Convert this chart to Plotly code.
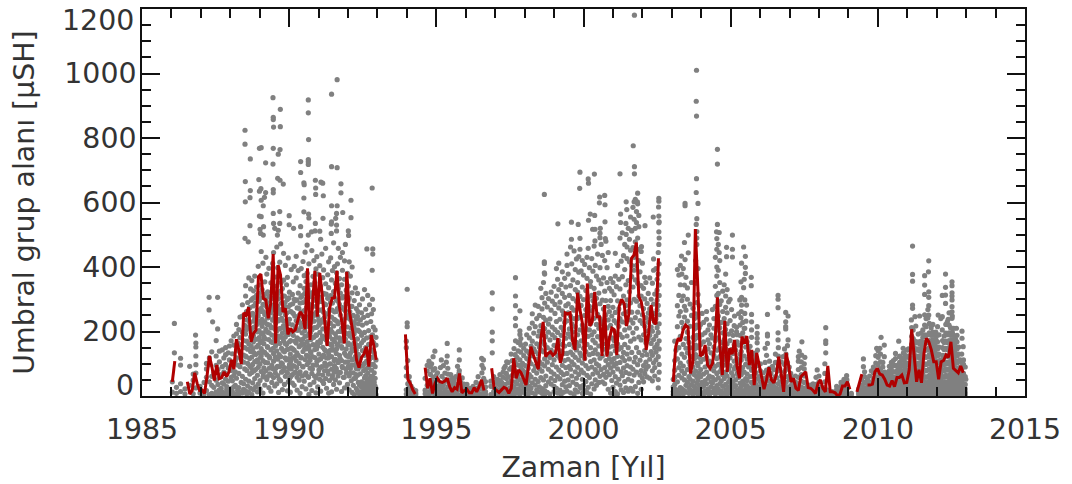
import plotly.graph_objects as go

# Outlying group areas read one by one (year, area)
peak_years_a = [1986.10,1986.10,1986.31,1986.82,1987.28,1987.57,1987.28,1987.40,1987.57,1988.50,1988.50,1989.45,1989.70,1989.46,1989.46,1989.47,1989.70,1990.65,1990.65,1991.44,1991.63,1990.66,1988.99,1989.05,1989.46,1989.69,1989.63,1988.68,1989.20,1989.45,1990.39,1990.65,1990.65,1990.65,1991.44,1991.63,1990.39,1988.51,1988.97,1989.61,1989.69,1989.80,1990.50,1990.51,1990.89,1991.08,1991.14,1990.90,1990.90,1991.16,1991.76,1991.76,1992.82,1988.68,1988.99,1989.04,1989.20,1989.46,1989.46,1988.67,1988.51,1989.05,1989.16,1989.12,1990.50,1991.44,1991.63,1992.10,1988.99,1989.05,1989.46,1989.68,1990.00,1990.50,1990.66,1990.67,1991.15,1991.44,1991.43,1991.61,1991.58,1991.82,1992.10,1988.67,1990.00,1990.15,1990.39,1989.47,1989.68,1989.01,1989.13,1989.51,1989.03,1990.89,1990.65,1990.76,1990.88,1991.04,1991.43,1991.61,1992.01,1992.02,1990.39,1989.63,1989.60,1989.12,1991.07,1988.50,1988.61,1992.64,1992.84,1992.84,1992.82,1994.01,1994.01,1994.01]
peak_areas_a = [225,134,117,189,306,306,267,230,208,824,781,925,889,864,857,834,835,918,878,936,981,795,768,770,768,764,750,735,723,719,727,733,726,718,711,708,693,665,671,675,669,657,661,655,669,663,660,645,625,621,658,630,645,637,635,643,631,640,630,615,602,607,616,590,614,590,590,607,558,556,566,572,559,571,564,552,551,540,533,566,551,569,553,528,531,520,525,535,535,517,525,520,504,535,499,509,512,511,504,530,512,498,497,514,499,499,486,489,478,456,456,440,390,331,227,215]
peak_years_b = [2001.73,2003.84,2003.83,2003.84,2001.69,2004.55,2004.55,2001.73,2001.73,2003.84,1999.88,2000.37,2001.24,2000.16,2000.17,1999.87,1998.67,2003.83,2003.89,2000.55,2000.72,2000.54,2000.73,2001.84,2001.45,2001.72,2001.83,2002.56,2002.56,2002.55,2003.45,2003.45,2001.47,2002.56,2002.56,2002.37,2000.23,2000.38,2000.17,2000.73,1999.13,1999.59,1999.82,2001.26,2001.26,2002.09,2004.55,2003.83,2003.56,2003.43,2004.52,2004.61,2002.56,2002.56,1999.59,1999.88,2000.31,2000.39,2000.57,2000.74,2000.56,2000.39,2001.97,2001.45,2001.63,2003.56,2003.33,2003.45,2004.86,2004.61,2004.86,1998.67,1998.67,1998.67,1997.69,1996.90,1996.90,1997.69,1997.69,1997.84,1997.69,1997.69,1997.84,1996.90,1996.90,1996.90,1997.84,1997.69,1997.84,1994.95,1995.37,1995.78,1995.37,1995.78,1995.17,1996.54,1996.60,1997.39,1996.60,1997.30,1995.78]
peak_areas_b = [1181,1010,914,868,776,765,719,711,689,674,694,688,689,673,660,644,625,631,597,617,622,599,593,629,602,602,602,613,604,586,597,590,578,558,537,555,564,560,545,540,534,539,532,564,538,528,532,532,499,476,509,507,509,470,486,489,517,517,520,488,491,481,463,501,514,444,434,423,461,445,432,416,411,382,367,320,270,310,280,264,241,218,202,198,171,134,191,171,165,139,163,143,124,112,112,117,112,106,86,86,79]
peak_years_c = [2005.06,2005.06,2005.06,2005.44,2005.50,2005.37,2005.50,2005.50,2005.70,2005.46,2005.35,2005.70,2005.44,2005.37,2005.31,2005.48,2005.54,2005.37,2005.48,2005.71,2005.13,2005.35,2005.52,2005.71,2005.20,2005.48,2005.90,2005.71,2005.20,2005.90,2005.90,2005.90,2006.25,2006.25,2006.25,2006.25,2006.61,2006.61,2006.61,2006.87,2006.95,2006.87,2006.87,2006.87,2006.61,2006.61,2006.95,2007.42,2008.23,2008.23,2008.23,2008.23,2007.33,2007.41,2007.52,2007.94,2008.94,2009.51,2009.51,2010.11,2009.96,2010.07,2010.22,2010.22,2010.71,2010.86,2010.75,2011.18,2011.18,2011.18,2011.73,2011.72,2011.59,2011.59,2011.59,2011.73,2011.73,2011.73,2011.18,2011.18,2012.30,2012.30,2012.30,2012.19,2012.30,2012.52,2012.52,2012.52,2012.52,2012.52,2012.52,2012.52,2012.05,2012.19,2012.52,2012.39,2011.42,2011.26,2011.14,2011.73,2011.29,2012.67,2012.86,2012.19,2012.86,2012.90,2012.99]
peak_areas_c = [499,455,431,462,433,412,399,380,368,362,354,342,336,306,298,298,282,282,256,253,248,243,232,230,213,210,215,205,199,194,179,165,253,192,186,163,312,300,274,259,248,230,215,208,196,174,174,168,212,171,163,134,139,127,120,81,63,115,91,182,148,148,158,122,170,148,124,465,377,356,419,385,373,344,315,323,306,280,282,272,378,337,313,312,287,354,342,320,310,298,277,261,251,246,241,238,248,246,236,251,217,210,201,205,179,153,52]

# Dense body of the cloud, read as same-day stacks (year, areas)
stacks_1986 = [(1986.03,[12,44]),(1986.17,[27,8]),(1986.31,[96,38,14]),(1986.46,[22,6]),(1986.62,[33,92]),(1986.74,[7,49,68]),(1986.83,[124,25,152,71,97,164]),(1986.97,[9,30]),(1987.11,[42,6]),(1987.19,[84,17,101,58]),(1987.29,[118,4,44,97]),(1987.37,[8,61,137,33]),(1987.44,[27,72,3]),(1987.52,[124,49,13,95,172]),(1987.58,[36,7,83]),(1987.63,[139,19,106,57]),(1987.69,[5,66,24]),(1987.73,[91,41,12,143]),(1987.78,[2,118,37,74]),(1987.84,[10,52,150,98,128]),(1987.88,[29,6,69,21]),(1987.93,[87,134,15,46]),(1987.97,[112,155,4]),(1988.03,[58,23,79,171,11])]
stacks_1988 = [(1988.07,[14,131,47,86]),(1988.12,[3,158,64,186,28]),(1988.17,[109,33,75]),(1988.21,[7,222,118,55,193]),(1988.25,[142,18,96,165]),(1988.29,[70,26,206,5]),(1988.33,[136,245,91,12,181]),(1988.37,[42,159,113]),(1988.41,[283,61,9,197,248]),(1988.45,[105,21,172,127,38]),(1988.49,[84,219,150]),(1988.52,[310,16,124,52,342,192]),(1988.56,[79,236,170,6]),(1988.59,[145,290,101,31,262,214]),(1988.63,[46,366,161,11]),(1988.66,[228,93,274,116,68]),(1988.69,[24,332,183,138,251]),(1988.73,[73,358,209,4,121]),(1988.76,[146,302,41,256,98]),(1988.79,[187,279,19,232,168,326]),(1988.83,[107,54,372,243]),(1988.86,[176,28,288,82,129]),(1988.89,[221,338,152,312]),(1988.92,[64,266,13,199,112]),(1988.95,[402,89,158,249,37]),(1988.98,[134,318,203,295,181]),(1989.01,[48,226,344,22,99]),(1989.05,[448,147,272,76,194,125]),(1989.08,[330,238,216,171]),(1989.11,[9,284,110,412,59]),(1989.14,[184,306,87,162]),(1989.17,[354,253,34,135,230]),(1989.21,[430,78,207,299]),(1989.24,[51,277,128,378]),(1989.27,[198,103,323,151]),(1989.31,[244,396,26,175]),(1989.34,[69,290,118,220]),(1989.38,[143,304,15,351,258]),(1989.41,[95,189,42,281]),(1989.44,[411,212,166,327,235]),(1989.47,[57,108,445,271,132]),(1989.51,[369,179,31,317,248]),(1989.54,[85,226,156,294]),(1989.58,[462,202,38,341,140]),(1989.61,[114,279,63,398]),(1989.64,[186,372,233,11,302]),(1989.68,[91,415,163,256]),(1989.71,[472,210,47,325,122]),(1989.74,[148,288,74,241]),(1989.77,[333,195,20,264,100]),(1989.81,[218,359,171,442]),(1989.84,[88,310,137,36]),(1989.87,[252,405,183,61,276]),(1989.91,[112,345,160,230]),(1989.94,[299,16,207,71,368]),(1989.97,[145,276,44,428,191])]
stacks_1990 = [(1990.01,[97,238,322,168,53]),(1990.04,[283,12,130,200]),(1990.07,[392,261,84,149]),(1990.11,[40,315,221,117,66]),(1990.14,[188,354,256]),(1990.17,[93,33,142,300,402]),(1990.21,[211,74,296]),(1990.24,[164,433,109,366,234]),(1990.27,[58,273,180,18]),(1990.31,[319,126,389,204]),(1990.34,[49,250,153,101]),(1990.37,[342,227,75,8,288]),(1990.41,[395,172,119,260]),(1990.44,[29,311,196,62]),(1990.47,[219,138,417,90]),(1990.51,[265,46,334,161,373]),(1990.54,[113,242,446,185]),(1990.57,[300,22,146,72,355]),(1990.61,[216,98,381,169,468]),(1990.64,[239,60,123,331]),(1990.67,[285,5,193,410,149]),(1990.71,[35,308,111,252,86]),(1990.74,[345,175,229,135]),(1990.77,[451,205,17,275,70]),(1990.81,[159,371,96,321]),(1990.84,[43,232,182,298,420]),(1990.87,[119,352,255,144]),(1990.91,[10,278,190,56,394]),(1990.94,[324,213,107,432]),(1990.97,[167,378,28,154,247]),(1991.01,[81,306,220,130]),(1991.04,[404,197,266,52]),(1991.07,[340,115,174,15]),(1991.11,[293,236,91,440]),(1991.14,[65,367,151,208]),(1991.17,[127,391,39,260,318]),(1991.21,[178,102,316,229]),(1991.24,[458,54,283,140,348]),(1991.27,[200,24,118,254]),(1991.31,[376,163,77,303]),(1991.34,[223,9,336,131,416]),(1991.37,[268,99,185,48]),(1991.41,[428,160,311,206]),(1991.44,[83,245,360,13,122]),(1991.47,[389,176,288,63]),(1991.51,[142,324,217,475,36]),(1991.54,[94,261,401,169]),(1991.57,[50,349,235,114,193]),(1991.61,[512,298,146,21,382]),(1991.64,[76,231,410,159,271]),(1991.67,[333,104,200,458]),(1991.71,[41,284,180,364,126]),(1991.74,[251,73,430,319]),(1991.78,[153,345,210,14,110]),(1991.81,[390,274,88,445]),(1991.84,[170,58,308,235]),(1991.88,[133,362,25,198,419]),(1991.91,[264,105,470,176]),(1991.94,[328,71,244,146]),(1991.98,[36,214,380,123,287]),(1992.01,[164,92,341,250]),(1992.04,[416,19,195,62,304]),(1992.08,[237,133,372,85]),(1992.11,[47,278,158,210]),(1992.14,[400,112,320,11,181]),(1992.18,[250,72,141,33]),(1992.21,[193,296,96,4,227]),(1992.25,[335,162,55,122]),(1992.28,[271,23,204,85,143]),(1992.32,[318,16,177,64,247,109]),(1992.35,[8,129,224,42]),(1992.39,[283,91,154,34,200]),(1992.42,[12,236,117,69,3]),(1992.46,[165,258,44,188,27]),(1992.49,[93,5,301,141,220]),(1992.53,[14,244,79,38,173]),(1992.56,[330,22,126,56,197,101]),(1992.6,[9,269,150,2,63,30]),(1992.63,[180,43,108,18,226,85]),(1992.67,[312,4,132,250,29,71]),(1992.7,[52,11,203,90,160,20]),(1992.73,[137,40,283,2,113,7]),(1992.77,[231,61,15,184,34,98]),(1992.8,[3,47,255,80,24,143]),(1992.83,[120,8,190,34,61,300]),(1992.86,[15,214,98,3,268,47,166]),(1992.89,[72,21,134,42,7]),(1992.92,[205,13,55,2,91,31]),(1992.95,[158,112,4,182,24])]
stacks_core = [(1988.55,[206,121,262]),(1988.71,[155,297,88,198]),(1988.81,[214,134,305,78]),(1988.94,[293,176,105,234]),(1989.03,[166,262,120,304]),(1989.12,[138,228,70,262,196]),(1989.19,[177,104,316,282]),(1989.26,[242,60,153,222]),(1989.32,[122,309,86,196]),(1989.39,[212,64,272,168]),(1989.46,[148,84,302,238]),(1989.53,[121,266,206,72]),(1989.6,[174,92,238,315]),(1989.66,[128,266,52,208]),(1989.73,[182,103,352,268]),(1989.79,[141,234,78,310]),(1989.86,[206,118,290,163]),(1989.92,[75,258,144,192]),(1989.99,[116,224,304,88]),(1990.05,[172,262,108,60]),(1990.12,[146,286,202,94]),(1990.19,[248,72,170,122]),(1990.26,[204,298,134,88]),(1990.33,[176,232,70,272]),(1990.4,[118,214,306,158]),(1990.46,[92,246,176,290]),(1990.53,[148,202,66,318]),(1990.59,[274,126,186,244]),(1990.66,[104,156,226,58]),(1990.72,[196,278,138,320]),(1990.79,[122,246,84,182]),(1990.86,[212,62,158,298]),(1990.93,[146,260,96,188]),(1991.0,[234,112,292,68]),(1991.06,[166,226,88,306]),(1991.13,[122,268,186,46]),(1991.2,[244,144,78,286]),(1991.26,[174,92,316,210]),(1991.33,[118,256,68,192]),(1991.4,[226,142,290,100]),(1991.46,[198,56,266,156]),(1991.53,[110,238,306,74]),(1991.6,[182,262,132,86]),(1991.66,[224,158,62,294]),(1991.73,[116,200,276,170]),(1991.8,[236,92,148,304]),(1991.87,[176,268,58,214]),(1991.93,[126,286,84,192]),(1992.0,[242,160,106,296]),(1992.06,[186,70,262,122]),(1992.13,[228,96,146,278]),(1992.2,[164,54,214,114]),(1992.27,[238,98,176,66]),(1992.34,[156,204,84,262])]
stacks_1994 = [(1993.98,[170,19,88,6,62,150]),(1994.03,[38,110,12]),(1994.08,[60,4,27,44]),(1994.14,[14,31,7]),(1994.2,[22,5]),(1994.3,[9,17,4]),(1994.62,[55,18,7]),(1994.69,[95,33,78,12]),(1994.75,[28,108,5]),(1994.8,[47,15,67,90]),(1994.84,[100,9,39]),(1994.89,[21,58,122,80]),(1994.95,[44,4,85]),(1994.99,[26,63,13]),(1995.04,[50,7,72]),(1995.09,[18,32,5]),(1995.14,[88,41,12]),(1995.19,[24,61,3]),(1995.24,[94,35,8]),(1995.29,[71,20,52]),(1995.34,[105,14,46,3]),(1995.39,[68,86,28]),(1995.44,[33,6,50]),(1995.49,[66,17]),(1995.55,[23,4,39,55]),(1995.6,[11,47]),(1995.66,[60,30,7,15]),(1995.72,[92,36,5]),(1995.77,[52,20,70]),(1995.83,[25,3,42]),(1995.88,[56,12]),(1995.94,[6,28,37,16]),(1996.04,[10,36,21,4]),(1996.14,[24,5,13]),(1996.25,[30,9,3,17]),(1996.35,[42,15,6]),(1996.42,[26,60,12]),(1996.48,[22,4,38]),(1996.55,[95,34,7,72]),(1996.61,[18,55]),(1996.67,[45,14,5,28])]
stacks_1997 = [(1996.85,[46,4,30]),(1996.95,[60,14,6,27,44]),(1997.03,[24,3]),(1997.08,[11,52,39]),(1997.16,[33,7,66,19,48]),(1997.22,[5,42]),(1997.27,[74,13,27,58]),(1997.34,[92,36,8]),(1997.38,[20,54,70]),(1997.44,[104,12,41,4,60]),(1997.49,[25,83]),(1997.54,[130,47,6,88]),(1997.58,[18,64,110,31]),(1997.64,[147,28,3,81]),(1997.68,[105,44,62,14,128]),(1997.74,[75,9,120,38]),(1997.78,[166,22,55,96,140]),(1997.84,[50,5,112,68]),(1997.87,[178,17,33,136,90,158]),(1997.93,[43,101,12,80]),(1997.97,[148,26,60,125]),(1998.03,[73,7,161,94]),(1998.07,[36,139,21,190,54,116]),(1998.12,[48,4,86]),(1998.16,[180,30,66,210,132,16,108]),(1998.22,[59,155,25,100]),(1998.26,[255,41,170,10,124,226]),(1998.31,[79,146,195]),(1998.36,[282,6,92,215,34,138,52]),(1998.41,[19,240,71,162,114]),(1998.46,[278,45,130,186]),(1998.5,[13,201,85,250,28,152,106]),(1998.55,[334,57,144,218]),(1998.59,[23,305,99,192,77,8,270,168]),(1998.64,[352,50,137,244]),(1998.68,[378,4,115,209,93,288,17,160]),(1998.72,[62,235,184,318,32]),(1998.77,[150,11,276,105]),(1998.81,[44,223,83,302,198,127]),(1998.86,[239,6,119,174]),(1998.9,[266,75,37,322,142,55]),(1998.94,[190,294,97,214]),(1999.0,[30,157,340,14,112,68]),(1999.03,[256,48,181,284,134,206]),(1999.08,[395,90,24,310,231]),(1999.12,[148,60,362,125,9,197]),(1999.16,[273,81,172,412,330]),(1999.2,[18,238,53,117,291,140]),(1999.24,[188,346,5,213,73]),(1999.28,[385,95,264,35,160,318]),(1999.32,[132,12,203,66,252]),(1999.36,[306,110,228,46,365,155]),(1999.4,[280,88,179,28,338]),(1999.44,[70,440,132,233,15,405]),(1999.48,[193,286,50,378,114,258]),(1999.52,[160,92,312,32,208]),(1999.56,[342,10,136,248,462,183,83]),(1999.6,[62,274,224,410,106]),(1999.64,[43,175,360,128,302,199]),(1999.68,[5,97,450,266,151,240]),(1999.72,[392,75,330,19,215,120]),(1999.76,[36,294,166,425,55,143]),(1999.8,[190,89,352,240,13,322]),(1999.84,[384,111,271,67,432,156]),(1999.88,[29,205,309,133,455,245])]
stacks_2000 = [(1999.92,[80,388,171,24,281,125]),(1999.96,[420,52,220,102,338,8]),(2000.0,[196,375,148,72,299,34]),(2000.04,[250,17,116,408,178]),(2000.08,[45,327,94,210,268,138]),(2000.12,[365,11,160,430,64]),(2000.16,[235,85,306,185,27,458]),(2000.2,[128,398,57,278,205]),(2000.24,[6,340,107,224,150,355]),(2000.28,[426,38,265,90,190,312]),(2000.32,[173,68,387,132,296]),(2000.36,[465,22,241,112,334,199]),(2000.4,[82,405,165,280,143,50]),(2000.44,[222,372,100,303,33]),(2000.48,[440,130,253,72,184]),(2000.52,[319,94,42,210,360,155]),(2000.56,[505,117,240,61,398,286]),(2000.6,[175,348,82,225,470]),(2000.64,[124,297,44,436,203,162]),(2000.68,[270,67,366,145,231]),(2000.72,[88,420,186,325,38]),(2000.76,[252,110,480,58,296,161]),(2000.8,[398,133,211,75,352]),(2000.84,[21,278,97,178,445,236]),(2000.88,[334,66,152,262,116]),(2000.92,[9,219,364,87,296,131]),(2000.96,[48,180,325,105,248]),(2001.0,[352,74,155,27,275,205]),(2001.04,[116,5,234,93,314,172]),(2001.08,[442,60,259,140,372,14]),(2001.12,[196,101,339,40,226]),(2001.16,[295,84,161,405,7,123]),(2001.2,[216,52,362,145,270]),(2001.24,[490,34,191,104,332,240]),(2001.28,[75,418,150,289,19]),(2001.32,[230,120,506,63,370,182]),(2001.36,[310,11,255,87,435,135]),(2001.4,[45,205,392,160,470,110]),(2001.44,[281,73,345,25,535,226]),(2001.48,[130,462,186,94,426,298]),(2001.52,[52,262,358,150,520,15]),(2001.56,[211,115,416,69,323,486]),(2001.6,[24,289,170,555,90,452,236]),(2001.64,[370,135,512,47,405,260]),(2001.68,[196,585,83,338,460,15,226]),(2001.72,[548,106,300,430,65,177,390]),(2001.76,[478,29,243,610,120,360,520]),(2001.8,[150,572,294,74,405,538,210]),(2001.84,[350,8,455,596,97,260,490]),(2001.88,[183,525,42,310,420,135,560]),(2001.92,[65,234,385,111,280]),(2001.96,[448,21,174,310,79,342]),(2002.0,[225,126,412,56,252]),(2002.04,[94,334,190,44,271]),(2002.08,[141,368,70,216,301]),(2002.12,[243,105,165,352,83]),(2002.16,[287,128,202,59]),(2002.2,[177,318,92,229,257]),(2002.25,[114,366,55,188,270]),(2002.3,[214,138,300,163,241]),(2002.34,[78,350,126,201,47]),(2002.38,[425,175,285,103,256,390]),(2002.42,[62,228,150,316,88]),(2002.46,[395,136,239,186,112]),(2002.5,[297,160,362,212,328,267]),(2002.54,[25,445,122,378,197,51,281]),(2002.57,[540,98,312,171,410,146,252,74,490,224,344])]
stacks_2003 = [(2003.05,[28,5,52,14]),(2003.1,[110,8,170,36,80,58]),(2003.14,[20,142,3]),(2003.19,[280,44,392,115,15,215]),(2003.24,[88,312,4,150,248,375,64]),(2003.29,[345,26,185,405,10,102,262]),(2003.34,[56,228,130,22,378,296,78]),(2003.39,[160,6,310,93,395,212]),(2003.43,[50,344,17,245,120,70,278]),(2003.48,[178,33,148,368,12,266]),(2003.53,[300,82,198,42,134,335,232]),(2003.58,[26,106,60,166,8]),(2003.62,[285,96,20,216,150,52]),(2003.67,[352,35,122,72,250]),(2003.72,[4,182,90,46,272,15]),(2003.77,[145,29,208,66,116,240,175]),(2003.81,[350,24,128,78,420,10,255,158]),(2003.85,[490,58,220,40,102,290,188,550,470,510]),(2003.89,[18,395,94,245,150,6,50,315]),(2003.93,[212,70,120,34,180,280]),(2003.98,[12,160,60,222,106,26,82]),(2004.03,[256,42,132,190]),(2004.08,[5,114,68,228,30,168]),(2004.13,[90,16,48,196,140]),(2004.18,[9,238,74,120,38,262]),(2004.23,[174,22,55,146,96,205]),(2004.28,[4,108,162,62,220,14]),(2004.33,[84,28,134,44,190]),(2004.38,[268,11,100,58,180,40]),(2004.43,[24,210,126,78,152,240]),(2004.48,[430,6,92,278,50,18,172,340]),(2004.53,[116,455,32,372,205,70,488,240,142,312,400]),(2004.58,[22,248,98,470,56,180,318,10,390]),(2004.63,[122,352,38,212,76,150,284,420]),(2004.68,[4,166,295,88,15,228,46]),(2004.73,[138,30,262,66,196,325,112]),(2004.78,[8,345,96,240,54,175,120]),(2004.83,[20,378,146,74,310,206,36,275]),(2004.88,[108,5,258,162,62,330,224]),(2004.93,[14,192,84,28,134,292,44]),(2004.98,[234,52,118,9,300,172,94]),(2005.03,[20,144,72,268,34,202])]
stacks_2005 = [(2005.08,[62,14,132,44,188,4]),(2005.12,[108,218,28,84,160]),(2005.17,[7,92,32,142,50]),(2005.22,[18,190,70,116,168]),(2005.27,[3,104,58,12,158,255]),(2005.32,[40,188,24,80,130,220]),(2005.36,[66,6,138,30,262,112]),(2005.41,[228,16,88,46,196,166]),(2005.46,[4,74,124,36,180,210]),(2005.51,[22,98,54,152,11]),(2005.56,[8,114,48,168,68,32]),(2005.61,[18,90,140]),(2005.66,[3,60,25,154,13,102]),(2005.71,[42,128,80,182]),(2005.76,[6,28,84,15,62]),(2005.81,[44,132,106]),(2005.86,[4,72,22,118,36]),(2005.91,[52,10,94,142]),(2005.96,[7,28,60,16]),(2006.01,[44,100,78]),(2006.06,[3,22,36,11]),(2006.11,[54,72]),(2006.17,[5,40,14,104,26,148]),(2006.22,[80,58,126]),(2006.27,[8,64,30,18]),(2006.32,[46,86,108]),(2006.37,[3,22,11,70,36]),(2006.42,[52,92]),(2006.47,[6,42,15,82,28]),(2006.52,[130,60,104]),(2006.57,[4,24,56,12,102]),(2006.62,[78,38,150,124]),(2006.67,[7,44,16,84]),(2006.72,[28,62,106]),(2006.78,[3,54,22,122,10]),(2006.83,[76,36,146,98]),(2006.88,[5,42,14,130,82]),(2006.93,[26,104,60,156]),(2006.99,[8,50,18,90]),(2007.04,[32,70]),(2007.1,[4,40,12,56,24]),(2007.2,[28,6,62,44,15]),(2007.3,[3,58,22,108,11,122,38,82]),(2007.4,[14,66,5,106,46,88,28]),(2007.5,[4,62,24,84,12,42,100]),(2007.6,[7,30,16]),(2007.7,[20,3,34,10]),(2007.8,[14,5,38,26]),(2007.9,[22,4,58,11,36]),(2008.0,[44,6,28,62,15]),(2008.1,[10,3,20]),(2008.2,[26,5,100,13,70,44]),(2008.3,[10,4,18]),(2008.45,[8,3,14]),(2008.6,[20,5,30,11]),(2008.75,[30,4,42,18,9]),(2008.85,[14,52,26,6,40]),(2008.95,[36,3,50,22,10]),(2009.1,[4,8]),(2009.35,[12,5,22]),(2009.45,[34,4,50,20,10]),(2009.55,[14,75,26,6,60,42])]
stacks_2009 = [(2009.65,[24,4,52,12,38]),(2009.72,[16,62,7,44]),(2009.78,[78,28]),(2009.85,[3,36,22,90,11,54,72]),(2009.93,[80,6,42,15,125,60,28,102]),(2010.01,[24,96,4,56,40,140,74,12,120]),(2010.09,[46,8,106,18,64,30,84,130]),(2010.17,[25,104,3,54,13,90,38,72]),(2010.24,[16,6,58,28,42,74]),(2010.32,[24,54,4,38,12,70]),(2010.39,[7,46,16,92,30,62,78]),(2010.46,[36,3,88,52,11,70,22,104]),(2010.53,[15,58,6,76,28,42,96,110]),(2010.6,[12,94,40,4,74,24,56,116,132]),(2010.67,[18,62,8,46,30,96,80]),(2010.74,[22,86,3,52,36,122,68,104,11]),(2010.8,[28,6,78,42,15,60,98,118]),(2010.87,[54,4,92,24,134,38,12,72,112]),(2010.93,[84,8,46,18,126,30,64,104]),(2010.98,[25,98,3,58,13,142,78,120,40]),(2011.04,[102,16,62,6,44,124,28,82,146]),(2011.1,[24,12,56,4,96,76,38,118]),(2011.15,[46,8,140,18,84,160,30,64,104,118,185,212]),(2011.2,[22,72,3,54,134,11,92,156,36,112,178,205]),(2011.26,[30,6,84,15,126,46,104,64,148,170]),(2011.31,[13,78,3,40,120,25,58,98,142,165]),(2011.37,[124,16,62,6,44,102,28,82,146,168,192]),(2011.42,[38,12,96,4,140,24,56,76,118,162]),(2011.47,[8,84,18,64,126,30,46,104,148,170,195]),(2011.53,[36,3,94,11,54,74,116,22,138,160,182,205]),(2011.59,[15,80,6,42,122,28,60,100,144,166,190,220,252]),(2011.64,[24,98,4,58,12,142,40,78,120,165,188,215,240]),(2011.7,[14,80,3,60,122,26,42,100,144,166,190,242,268]),(2011.75,[46,6,106,16,84,30,64,128,150,172,196,225]),(2011.81,[12,78,3,58,120,24,40,98,142,164,188,212]),(2011.87,[48,7,108,18,86,32,66,130,152,175,198,222]),(2011.92,[26,100,4,60,13,42,80,122,144,166,188]),(2011.97,[34,8,88,20,68,50,110,132,154,176,198]),(2012.03,[26,102,3,60,12,42,80,124,146,168,188,215]),(2012.08,[30,6,108,16,66,48,86,130,152,190]),(2012.14,[22,90,3,52,10,36,70,112,240]),(2012.2,[28,82,6,60,14,42,104,126,150,172]),(2012.25,[16,98,4,58,40,12,78,120,144,166,186]),(2012.31,[44,7,104,20,84,30,64,126,148,170,195,222]),(2012.36,[18,80,3,60,26,42,100,122,144,166,190,230]),(2012.42,[46,6,106,16,84,30,64,128,150,172,196,220,258]),(2012.47,[24,98,3,58,12,40,78,120,142,164,188,212]),(2012.53,[48,7,108,18,86,32,66,130,152,175,198,248]),(2012.58,[26,100,4,60,13,42,80,122,144,166,188,210]),(2012.64,[34,8,88,20,68,50,110,132,154,176]),(2012.69,[26,102,3,60,12,42,80,124,146,168,188]),(2012.75,[30,6,108,16,66,48,86,130,152]),(2012.8,[22,90,3,52,10,36,70,112]),(2012.85,[28,82,6,60,14,42,104,130]),(2012.91,[16,98,3,52,36,10,70,112,22]),(2012.97,[4,22,60,36,90,12])]

# Red monthly mean segments: first month (decimal year) and monthly values
mean_start_1 = 1986.03
mean_values_1 = [44,108]
mean_start_2 = 1986.54
mean_values_2 = [44,6,17,72,39,17,19,8,60,124,91,48,96,54,57,75,60,75,112,83,176,143,99,258,251,275,168,194,205,370,378,303,298,241,287,440,163,406,375,261,272,191,210,199,205,230,261,251,207,396,174,282,388,246,382,313,236,155,272,303,305,388,277,230,163,385,267,225,174,112,88,120,130,153,91,189,158,112]
mean_start_3 = 1993.95
mean_values_3 = [191,52,39,19,6]
mean_start_4 = 1994.62
mean_values_4 = [88,24,55,8,39,55,44,42,46,55,29,13,26,21,70,10,17,21,10,10,26,13,29,50,17]
mean_start_5 = 1996.88
mean_values_5 = [86,24,17,11,19,27,23,8,24,117,55,81,72,50,34,91,153,127,101,83,174,230,122,132,137,126,134,179,103,132,258,254,258,171,143,320,267,225,110,349,217,230,323,246,246,124,282,122,179,210,205,127,279,300,287,217,256,427,437,476,308,292,246,143,194,282,230,223,427]
mean_start_6 = 2003.05
mean_values_6 = [44,153,179,171,205,220,213,70,106,518,339,124,130,158,96,86,101,163,306,153,65,233,75,148,130,174,91,55,184,163,186,96,143,34,134,101,60,21,50,89,50,41,65,122,60,13,134,96,44,55,24,17,60,68,75,26,24,17,8,39,50,24,13,93,13,13,10,0,6,31,31,44,21]
mean_start_7 = 2009.29
mean_values_7 = [13,39,68]
mean_start_8 = 2009.65
mean_values_8 = [34,34,37,75,86,68,65,52,34,31,48,29,57,57,65,41,42,81,207,112,44,81,41,132,179,168,143,106,106,52,106,110,127,120,168,86,79,72,93,72]

x_tick_labels = ["1985","1990","1995","2000","2005","2010","2015"]
x_tick_values = [1985,1990,1995,2000,2005,2010,2015]
y_tick_values = [0,200,400,600,800,1000,1200]
y_tick_labels = ["","200","400","600","800","1000",""]

dot_x = peak_years_a + peak_years_b + peak_years_c
dot_y = peak_areas_a + peak_areas_b + peak_areas_c
for group in (stacks_1986, stacks_1988, stacks_1990, stacks_core, stacks_1994, stacks_1997, stacks_2000, stacks_2003, stacks_2005, stacks_2009):
    for year, vals in group:
        dot_x += [year] * len(vals)
        dot_y += vals

line_x, line_y = [], []
for s, vals in ((mean_start_1, mean_values_1), (mean_start_2, mean_values_2), (mean_start_3, mean_values_3),
                (mean_start_4, mean_values_4), (mean_start_5, mean_values_5), (mean_start_6, mean_values_6),
                (mean_start_7, mean_values_7), (mean_start_8, mean_values_8)):
    line_x += [s + i / 12 for i in range(len(vals))] + [None]
    line_y += vals + [None]

TXT = "#333333"
FONT = "DejaVu Sans"
FS = 28.4
fig = go.Figure()
fig.add_trace(go.Scatter(x=dot_x, y=dot_y, mode="markers", marker=dict(size=5.2, color="#808080", line=dict(width=0)), showlegend=False))
fig.add_trace(go.Scatter(x=line_x, y=line_y, mode="lines", line=dict(color="#b00000", width=3), connectgaps=False, showlegend=False))

common = dict(showline=True, linecolor="#111111", linewidth=1.5, mirror="allticks", ticks="inside",
              ticklen=18, tickwidth=1.5, tickcolor="#111111", showgrid=False, zeroline=False,
              tickfont=dict(family=FONT, size=FS, color=TXT))
fig.update_xaxes(range=[1985, 2015], tickmode="array", tickvals=x_tick_values, ticktext=x_tick_labels,
                 ticklabelstandoff=7,
                 minor=dict(dtick=1, ticks="inside", ticklen=9, tickwidth=1.5, tickcolor="#111111", showgrid=False),
                 title=dict(text="Zaman [Yıl]", font=dict(family=FONT, size=FS, color=TXT), standoff=13), **common)
fig.update_yaxes(range=[0, 1200], tickmode="array", tickvals=y_tick_values, ticktext=y_tick_labels,
                 ticklabelstandoff=-2,
                 minor=dict(dtick=50, ticks="inside", ticklen=9, tickwidth=1.5, tickcolor="#111111", showgrid=False),
                 title=dict(text="Umbral grup alanı [μSH]", font=dict(family=FONT, size=FS, color=TXT), standoff=21), **common)
for val, txt, shift in ((0, "0", 11), (1200, "1200", -11)):
    fig.add_annotation(xref="paper", yref="y", x=0, y=val, text=txt, showarrow=False, xanchor="right", yanchor="middle",
                       xshift=-6, yshift=shift, font=dict(family=FONT, size=FS, color=TXT))
fig.update_layout(width=1072, height=484, margin=dict(l=142, r=47, t=8.7, b=88, autoexpand=False),
                  paper_bgcolor="white", plot_bgcolor="white")
fig.write_html("out.html", config=dict(displayModeBar=False), post_script="document.body.style.margin='0';")
